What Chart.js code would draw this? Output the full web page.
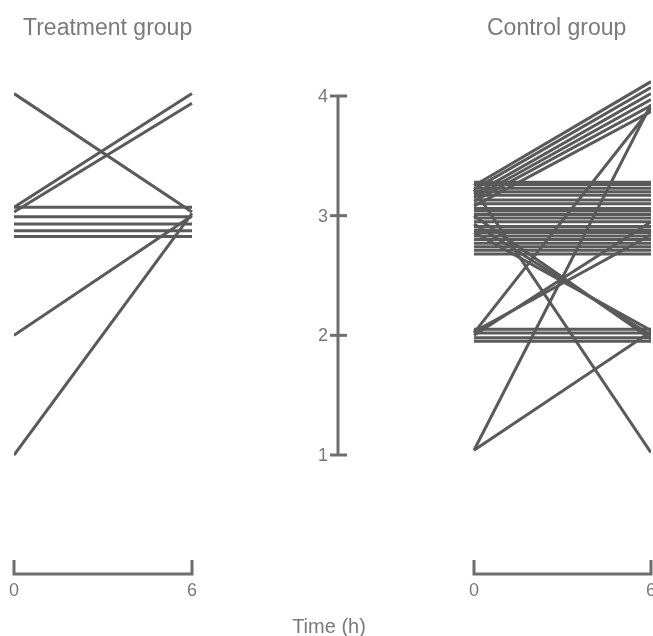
<!DOCTYPE html>
<html>
<head>
<meta charset="utf-8">
<script src="https://cdn.jsdelivr.net/npm/chart.js@4.4.1/dist/chart.umd.min.js"></script>
<style>
  body { margin: 0; background: #fff; }
  canvas { display: block; }
</style>
</head>
<body>
<canvas id="myChart" width="653" height="636"></canvas>
<script>
// time points (h)
const times = [0, 6];

// treatment group, one line per patient: value at 0 h and at 6 h
const treatmentStart = [4.02, 3.07, 3.03, 3.07, 2.99, 2.93, 2.875, 2.825, 2.0, 1.0];
const treatmentEnd   = [3.03, 4.02, 3.94, 3.07, 2.99, 2.93, 2.875, 2.825, 3.0, 3.02];

// control group
const controlStart = [
  3.25, 3.22, 3.18, 3.15, 3.12, 3.08,
  3.28, 3.26, 3.23, 3.20, 3.17, 3.13, 3.10, 3.06, 3.04, 3.01, 2.98, 2.95, 2.91, 2.88, 2.86, 2.83, 2.80, 2.77, 2.74, 2.71, 2.68,
  1.04, 1.04, 3.22, 2.02, 2.03, 2.00, 2.86, 2.93, 3.00,
  2.05, 2.02, 1.98, 1.95
];
const controlEnd = [
  4.12, 4.07, 4.02, 3.97, 3.92, 3.87,
  3.28, 3.26, 3.23, 3.20, 3.17, 3.13, 3.10, 3.06, 3.04, 3.01, 2.98, 2.95, 2.91, 2.88, 2.86, 2.83, 2.80, 2.77, 2.74, 2.71, 2.68,
  3.93, 2.03, 1.02, 3.90, 2.84, 2.95, 2.04, 2.00, 1.97,
  2.05, 2.02, 1.98, 1.95
];

const yTicks = [1, 2, 3, 4];
const xTickLabels = ['0', '6'];

// layout (pixels)
const areaLeft = 14, areaRight = 651, areaTop = 60, areaBottom = 486;
const tLeft = 14, tRight = 192;   // treatment 0..6 h
const cLeft = 474, cRight = 651;  // control 0..6 h
const y4 = 96, y1 = 455;
const axisPx = 338;
const bracketY = 574;

const lineColor = '#5a5a5a';
const axisColor = '#6e6e6e';
const textColor = '#7a7a7a';
const font = '"Liberation Sans", Arial, sans-serif';

const yppu = (y1 - y4) / 3;
const yMax = 4 + (y4 - areaTop) / yppu;
const yMin = 1 - (areaBottom - y1) / yppu;
const xTMax = 6 * (areaRight - areaLeft) / (tRight - tLeft);
const xCMin = 6 - 6 * (areaRight - areaLeft) / (cRight - cLeft);

function makeSets(starts, ends, axis) {
  return starts.map((s, i) => ({
    data: [{ x: times[0], y: s }, { x: times[1], y: ends[i] }],
    xAxisID: axis,
    borderColor: lineColor,
    borderWidth: 3,
    pointRadius: 0,
    fill: false
  }));
}

const decor = {
  id: 'decor',
  afterDraw(chart) {
    const c = chart.ctx;
    const y = chart.scales.y;
    const xT = chart.scales.xT;
    const xC = chart.scales.xC;
    c.save();
    c.strokeStyle = axisColor;
    c.lineWidth = 3;
    c.lineCap = 'butt';

    // central value axis
    c.beginPath();
    c.moveTo(axisPx, y.getPixelForValue(4));
    c.lineTo(axisPx, y.getPixelForValue(1));
    c.stroke();
    c.fillStyle = textColor;
    c.font = '18px ' + font;
    c.textAlign = 'right';
    c.textBaseline = 'middle';
    yTicks.forEach(v => {
      const py = y.getPixelForValue(v);
      c.beginPath();
      c.moveTo(axisPx - 8, py);
      c.lineTo(axisPx + 9, py);
      c.stroke();
      c.fillText(String(v), axisPx - 10, py + 1);
    });

    // time brackets
    [xT, xC].forEach(sc => {
      const a = sc.getPixelForValue(times[0]);
      const b = sc.getPixelForValue(times[1]);
      c.beginPath();
      c.moveTo(a, bracketY - 14);
      c.lineTo(a, bracketY);
      c.lineTo(b, bracketY);
      c.lineTo(b, bracketY - 14);
      c.stroke();
      c.textAlign = 'center';
      c.textBaseline = 'top';
      c.fillText(xTickLabels[0], a, bracketY + 8);
      c.fillText(xTickLabels[1], b, bracketY + 8);
    });

    // titles
    c.font = '23px ' + font;
    c.textBaseline = 'alphabetic';
    c.textAlign = 'left';
    c.fillText('Treatment group', 23, 35);
    c.fillText('Control group', 487, 35);
    c.font = '20px ' + font;
    c.textAlign = 'center';
    c.fillText('Time (h)', 329, 633);
    c.restore();
  }
};

new Chart(document.getElementById('myChart'), {
  type: 'line',
  data: {
    datasets: [
      ...makeSets(treatmentStart, treatmentEnd, 'xT'),
      ...makeSets(controlStart, controlEnd, 'xC')
    ]
  },
  options: {
    responsive: false,
    animation: false,
    layout: {
      padding: { left: areaLeft, right: 653 - areaRight, top: areaTop, bottom: 636 - areaBottom }
    },
    scales: {
      xT: { type: 'linear', min: 0, max: xTMax, display: false },
      xC: { type: 'linear', min: xCMin, max: 6, display: false },
      y: { type: 'linear', min: yMin, max: yMax, display: false }
    },
    plugins: {
      legend: { display: false },
      tooltip: { enabled: false }
    }
  },
  plugins: [decor]
});
</script>
</body>
</html>
